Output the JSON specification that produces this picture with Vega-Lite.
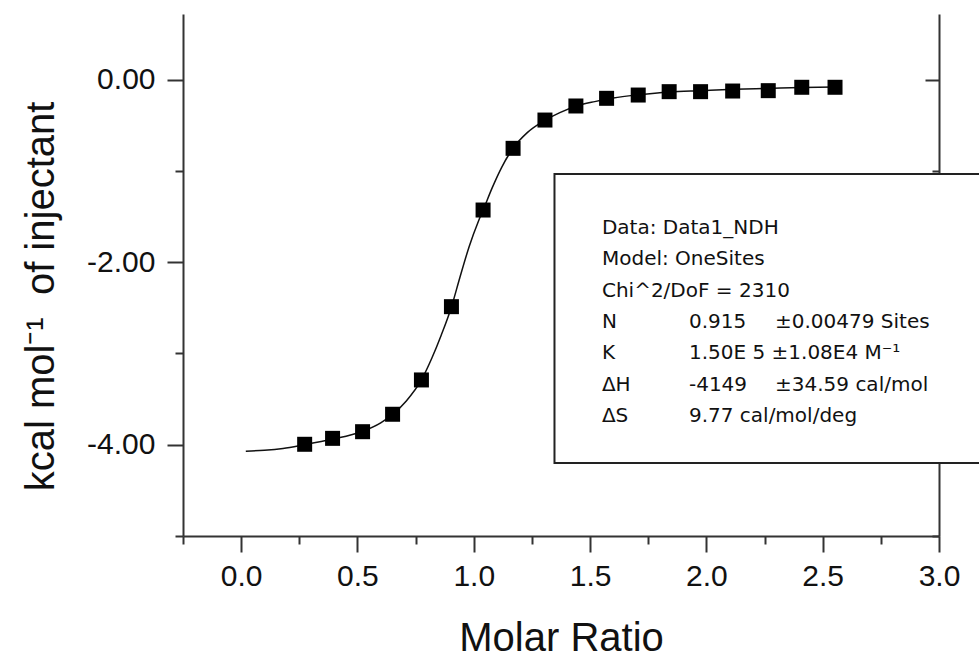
{
  "$schema": "https://vega.github.io/schema/vega-lite/v6.json",
  "width": 756,
  "height": 522,
  "autosize": {"type": "none"},
  "padding": {"left": 183, "top": 14, "right": 40, "bottom": 122},
  "background": "white",
  "config": {
    "view": {"stroke": null},
    "font": "Liberation Sans",
    "axis": {
      "grid": false,
      "domainColor": "#333333",
      "domainWidth": 2,
      "tickColor": "#333333",
      "tickWidth": 2,
      "labelColor": "#111111",
      "titleColor": "#111111",
      "labelFont": "Liberation Sans",
      "titleFont": "Liberation Sans",
      "labelFontSize": 30,
      "titleFontSize": 40,
      "titleFontWeight": "normal"
    },
    "text": {"font": "DejaVu Sans", "fontSize": 20, "color": "#111111", "align": "left", "baseline": "middle", "lineHeight": 31.3}
  },
  "datasets": {
    "points": [
      {"ratio": 0.273, "heat": -3.995},
      {"ratio": 0.393, "heat": -3.93},
      {"ratio": 0.522, "heat": -3.857},
      {"ratio": 0.651, "heat": -3.666},
      {"ratio": 0.775, "heat": -3.29},
      {"ratio": 0.904, "heat": -2.487},
      {"ratio": 1.04, "heat": -1.428},
      {"ratio": 1.169, "heat": -0.752},
      {"ratio": 1.306, "heat": -0.442},
      {"ratio": 1.439, "heat": -0.288},
      {"ratio": 1.571, "heat": -0.204},
      {"ratio": 1.707, "heat": -0.168},
      {"ratio": 1.84, "heat": -0.131},
      {"ratio": 1.975, "heat": -0.131},
      {"ratio": 2.113, "heat": -0.124},
      {"ratio": 2.266, "heat": -0.12},
      {"ratio": 2.41, "heat": -0.083},
      {"ratio": 2.553, "heat": -0.083}
    ],
    "fit": [
      {"ratio": 0.02, "heat": -4.07},
      {"ratio": 0.1, "heat": -4.06},
      {"ratio": 0.18, "heat": -4.04},
      {"ratio": 0.27, "heat": -4.0},
      {"ratio": 0.39, "heat": -3.94},
      {"ratio": 0.52, "heat": -3.855},
      {"ratio": 0.6, "heat": -3.76},
      {"ratio": 0.65, "heat": -3.67},
      {"ratio": 0.71, "heat": -3.52},
      {"ratio": 0.775, "heat": -3.29},
      {"ratio": 0.82, "heat": -3.05},
      {"ratio": 0.86, "heat": -2.8},
      {"ratio": 0.904, "heat": -2.49},
      {"ratio": 0.94, "heat": -2.17},
      {"ratio": 0.98, "heat": -1.83},
      {"ratio": 1.02, "heat": -1.55},
      {"ratio": 1.04, "heat": -1.43},
      {"ratio": 1.08, "heat": -1.18},
      {"ratio": 1.12, "heat": -0.96},
      {"ratio": 1.169, "heat": -0.75},
      {"ratio": 1.23, "heat": -0.58},
      {"ratio": 1.306, "heat": -0.445},
      {"ratio": 1.37, "heat": -0.36},
      {"ratio": 1.44, "heat": -0.29},
      {"ratio": 1.52, "heat": -0.24},
      {"ratio": 1.6, "heat": -0.2},
      {"ratio": 1.71, "heat": -0.165},
      {"ratio": 1.84, "heat": -0.135},
      {"ratio": 1.98, "heat": -0.12},
      {"ratio": 2.12, "heat": -0.105},
      {"ratio": 2.26, "heat": -0.095},
      {"ratio": 2.41, "heat": -0.085},
      {"ratio": 2.553, "heat": -0.08}
    ]
  },
  "layer": [
    {
      "data": {"name": "fit"},
      "mark": {"type": "line", "color": "#111111", "strokeWidth": 1.5, "interpolate": "monotone"},
      "encoding": {
        "x": {
          "field": "ratio",
          "type": "quantitative",
          "scale": {"domain": [-0.25, 3.0], "nice": false, "zero": false},
          "axis": {
            "values": [-0.25, 0, 0.25, 0.5, 0.75, 1, 1.25, 1.5, 1.75, 2, 2.25, 2.5, 2.75, 3],
            "title": "Molar Ratio",
            "labelExpr": "abs(datum.value*2 - round(datum.value*2)) < 0.001 ? format(datum.value, '.1f') : ''",
            "tickSize": {"condition": {"test": "abs(datum.value*2 - round(datum.value*2)) < 0.001", "value": 16}, "value": 8},
            "labelPadding": 9,
            "labelOverlap": false,
            "labelBound": false,
            "labelFlush": false,
            "titleX": 378,
            "titleY": 114,
            "titleBaseline": "alphabetic"
          }
        },
        "y": {
          "field": "heat",
          "type": "quantitative",
          "scale": {"domain": [-5, 0.72], "nice": false, "zero": false},
          "axis": {
            "orient": "left",
            "values": [-5, -4, -3, -2, -1, 0],
            "title": "kcal mol⁻¹\u00a0\u00a0of injectant",
            "labelExpr": "datum.value % 2 == 0 ? (datum.value < 0 ? '-' : '') + format(abs(datum.value), '.2f') : ''",
            "tickSize": {"condition": {"test": "datum.value % 2 == 0", "value": 16}, "value": 8},
            "labelPadding": 12,
            "labelOverlap": false,
            "labelBound": false,
            "labelFlush": false,
            "titleX": -130,
            "titleY": 282,
            "titleBaseline": "alphabetic",
            "titleAngle": -90
          }
        }
      }
    },
    {
      "data": {"name": "points"},
      "mark": {"type": "square", "size": 225, "color": "#000000", "opacity": 1},
      "encoding": {
        "x": {"field": "ratio", "type": "quantitative", "axis": null},
        "y": {
          "field": "heat",
          "type": "quantitative",
          "axis": {
            "orient": "right",
            "values": [-5, -4, -3, -2, -1, 0],
            "labels": false,
            "title": null,
            "tickSize": {"condition": {"test": "datum.value % 2 == 0", "value": -14}, "value": -7}
          }
        }
      }
    },
    {
      "data": {"values": [{}]},
      "mark": {"type": "rect", "fill": "white", "stroke": "#222222", "strokeWidth": 2},
      "encoding": {
        "x": {"datum": 1.347, "type": "quantitative", "axis": null},
        "x2": {"datum": 3.4},
        "y": {"datum": -1.033, "type": "quantitative", "axis": null},
        "y2": {"datum": -4.2}
      }
    },
    {
      "data": {"values": [{}]},
      "mark": {"type": "text", "text": ["Data: Data1_NDH", "Model: OneSites", "Chi^2/DoF = 2310", "N", "K", "ΔH", "ΔS"]},
      "encoding": {
        "x": {"datum": 1.551, "type": "quantitative", "axis": null},
        "y": {"datum": -1.625, "type": "quantitative", "axis": null}
      }
    },
    {
      "data": {"values": [{}]},
      "mark": {"type": "text", "text": ["0.915", "1.50E 5 ±1.08E4 M⁻¹", "-4149", "9.77 cal/mol/deg"]},
      "encoding": {
        "x": {"datum": 1.925, "type": "quantitative", "axis": null},
        "y": {"datum": -2.655, "type": "quantitative", "axis": null}
      }
    },
    {
      "data": {"values": [{}]},
      "mark": {"type": "text", "text": "±0.00479 Sites"},
      "encoding": {
        "x": {"datum": 2.295, "type": "quantitative", "axis": null},
        "y": {"datum": -2.655, "type": "quantitative", "axis": null}
      }
    },
    {
      "data": {"values": [{}]},
      "mark": {"type": "text", "text": "±34.59 cal/mol"},
      "encoding": {
        "x": {"datum": 2.295, "type": "quantitative", "axis": null},
        "y": {"datum": -3.342, "type": "quantitative", "axis": null}
      }
    }
  ],
  "resolve": {"axis": {"x": "independent", "y": "independent"}}
}
